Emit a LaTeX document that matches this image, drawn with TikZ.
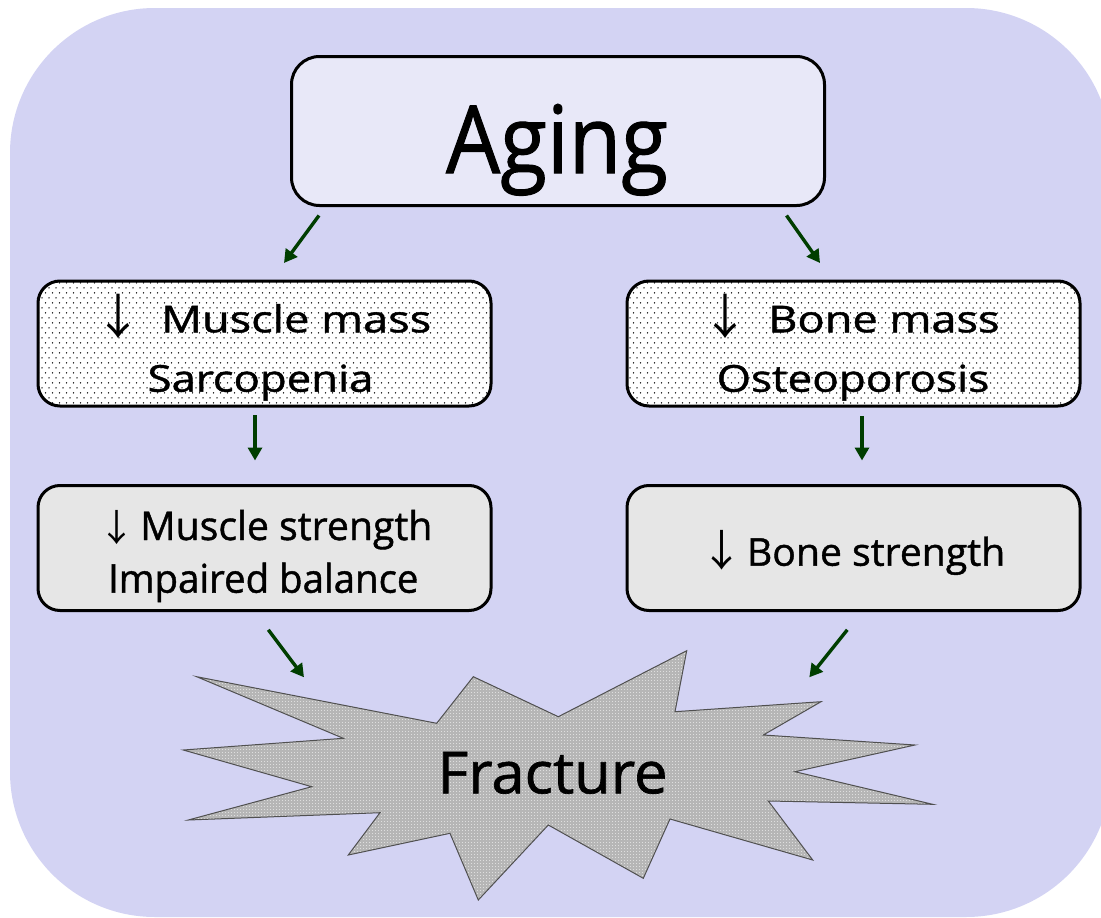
\documentclass[tikz,border=0pt]{standalone}
\usepackage{graphicx}
\usepackage{fontspec}
\setmainfont{Open Sans}[FakeBold=1.1]
\newfontfamily\cjk{Noto Sans CJK JP}
\usetikzlibrary{patterns,arrows.meta,calc}
\definecolor{bgc}{RGB}{211,211,243}
\definecolor{agingfill}{RGB}{232,232,248}
\definecolor{grayfill}{RGB}{230,230,230}
\definecolor{arrgreen}{RGB}{0,62,0}
\definecolor{burstfill}{RGB}{182,182,182}
\definecolor{burstline}{RGB}{80,80,80}
\pgfdeclarepatternformonly{sdots}{\pgfqpoint{-1pt}{-1pt}}{\pgfqpoint{8pt}{11pt}}{\pgfqpoint{7pt}{10pt}}{%
  \pgfpathcircle{\pgfqpoint{0pt}{0pt}}{0.75pt}%
  \pgfpathcircle{\pgfqpoint{3.5pt}{5pt}}{0.75pt}%
  \pgfusepath{fill}}
\pgfdeclarepatternformonly{bdots}{\pgfqpoint{0pt}{0pt}}{\pgfqpoint{3pt}{3pt}}{\pgfqpoint{3pt}{3pt}}{%
  \pgfpathrectangle{\pgfqpoint{0pt}{0pt}}{\pgfqpoint{1.2pt}{1.2pt}}%
  \pgfusepath{fill}}
\tikzset{
  box/.style={draw=black, line width=3pt, rounded corners=22pt, minimum width=453pt, minimum height=125pt, inner sep=0pt},
  dotbox/.style={box, fill=white, postaction={pattern=sdots, pattern color=black}},
  graybox/.style={box, fill=grayfill},
  conn/.style={draw=arrgreen, line width=3.4pt, -{Triangle[length=13pt,width=14pt]}},
  lbl/.style={inner sep=0pt, anchor=base west},
  clbl/.style={inner sep=0pt, anchor=base},
}
\begin{document}
\begin{tikzpicture}[x=1pt,y=-1pt]
\useasboundingbox (0,0) rectangle (1101,918);
\clip (0,0) rectangle (1101,918);
\fill[bgc, rounded corners=145pt] (10,8) rectangle (1111,917);

% boxes
\node[box, fill=agingfill, minimum width=533pt, minimum height=149pt, rounded corners=28pt] (aging) at (558,131) {};
\node[dotbox] (mm) at (264.5,343.5) {};
\node[dotbox] (bm) at (853.5,343.5) {};
\node[graybox] (ms) at (264.5,548) {};
\node[graybox] (bs) at (853.5,548) {};

% texts
\node[clbl] (agingt) at (557,173) {\fontsize{94}{94}\selectfont\scalebox{0.91}[1]{Aging}};

\node[clbl] (mmarr) at (118.5,334) {\cjk\fontsize{48}{48}\selectfont ↓};
\node[lbl] (mmt1) at (161,332.3) {\fontsize{37}{37}\selectfont\scalebox{1.22}[1]{Muscle mass}};
\node[clbl] (mmt2) at (260.5,391.7) {\fontsize{37}{37}\selectfont\scalebox{1.18}[1]{Sarcopenia}};

\node[clbl] (bmarr) at (725,334) {\cjk\fontsize{48}{48}\selectfont ↓};
\node[lbl] (bmt1) at (768,332.3) {\fontsize{37}{37}\selectfont\scalebox{1.22}[1]{Bone mass}};
\node[clbl] (bmt2) at (853,391.7) {\fontsize{37}{37}\selectfont\scalebox{1.19}[1]{Osteoporosis}};

\node[clbl] (msarr) at (116.5,541) {\cjk\fontsize{37}{37}\selectfont ↓};
\node[lbl] (mst1) at (140,540) {\fontsize{39.6}{39.6}\selectfont\scalebox{0.99}[1]{Muscle strength}};
\node[clbl] (mst2) at (263.3,592.7) {\fontsize{39.6}{39.6}\selectfont\scalebox{0.97}[1]{Impaired balance}};

\node[clbl] (bsarr) at (722,566) {\cjk\fontsize{43}{43}\selectfont ↓};
\node[lbl] (bst1) at (746.7,565.7) {\fontsize{38.4}{38.4}\selectfont\scalebox{1.02}[1]{Bone strength}};

% fracture burst
\coordinate (burst) at (552,772);
\path[fill=burstfill, postaction={pattern=bdots, pattern color=white!55!burstfill}]
  (196.7,676.7) -- (436.7,723.3) -- (473.3,676.7) -- (558.3,716.7) -- (686.7,650.7)
  -- (675,711.7) -- (821,701.7) -- (763.3,735) -- (915,745) -- (795,771.7)
  -- (932.7,804.3) -- (768.3,801) -- (812.7,860) -- (670,819) -- (643.3,878.3)
  -- (548.3,825) -- (478.3,900) -- (450,833.3) -- (348.3,855) -- (380,812.7)
  -- (188.3,820) -- (311.7,786.7) -- (183.3,750) -- (343.3,738.3) -- cycle;
\draw[draw=burstline, line width=1pt]
  (196.7,676.7) -- (436.7,723.3) -- (473.3,676.7) -- (558.3,716.7) -- (686.7,650.7)
  -- (675,711.7) -- (821,701.7) -- (763.3,735) -- (915,745) -- (795,771.7)
  -- (932.7,804.3) -- (768.3,801) -- (812.7,860) -- (670,819) -- (643.3,878.3)
  -- (548.3,825) -- (478.3,900) -- (450,833.3) -- (348.3,855) -- (380,812.7)
  -- (188.3,820) -- (311.7,786.7) -- (183.3,750) -- (343.3,738.3) -- cycle;
\node[clbl] (fract) at (552.5,793.3) {\fontsize{58}{58}\selectfont\scalebox{1.03}[1]{Fracture}};

% connectors
\draw[conn] ($(aging.south west)+(29,8.5)$) -- ($(mm.north)+(19.5,-16.5)$);
\draw[conn] ($(aging.south east)+(-39.5,8.5)$) -- ($(bm.north)+(-33.5,-16.5)$);
\draw[conn] ($(mm.south)+(-9.5,7.5)$) -- ($(ms.north)+(-9.5,-23.5)$);
\draw[conn] ($(bm.south)+(8.5,8.5)$) -- ($(bs.north)+(8.5,-23.5)$);
\draw[conn] ($(ms.south)+(3.8,17.8)$) -- ($(burst)+(-248,-94.7)$);
\draw[conn] ($(bs.south)+(-6.2,17.8)$) -- ($(burst)+(257.3,-94.7)$);
\end{tikzpicture}
\end{document}
